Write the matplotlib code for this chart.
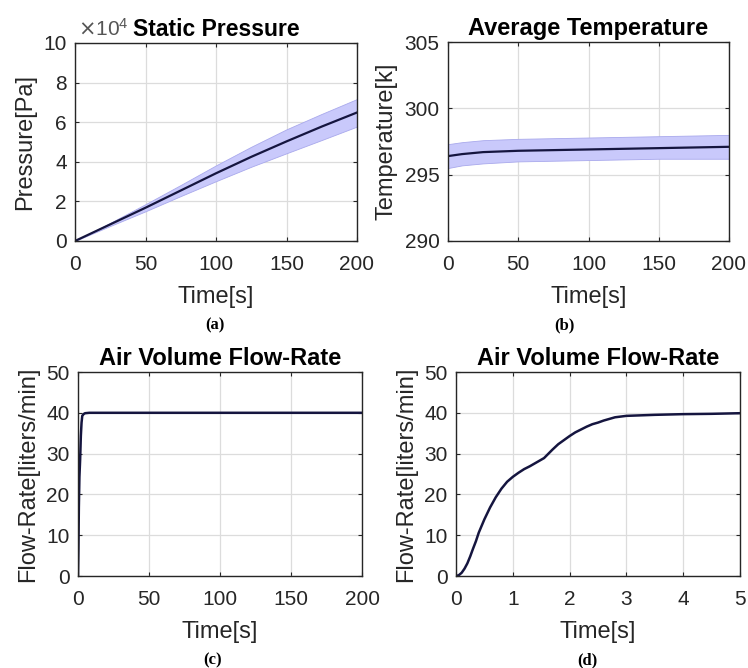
import numpy as np
import matplotlib.pyplot as plt

plt.rcParams['font.family'] = ['Liberation Sans', 'DejaVu Sans']

# -----------------------------------------------------
# Data
# -----------------------------------------------------
# (a) static pressure, in units of 1e4 Pa
p_time = [0, 25, 50, 75, 100, 125, 150, 175, 200]
p_mean = [0.0, 0.84, 1.68, 2.55, 3.42, 4.25, 5.03, 5.78, 6.49]
p_low = [0.0, 0.76, 1.50, 2.27, 3.02, 3.75, 4.43, 5.10, 5.78]
p_high = [0.0, 0.92, 1.86, 2.83, 3.82, 4.76, 5.64, 6.42, 7.17]

# (b) average temperature [K]
t_time = [0, 10, 25, 50, 75, 100, 125, 150, 175, 200]
t_mean = [296.4, 296.55, 296.7, 296.8, 296.85, 296.9, 296.95, 297.0, 297.05, 297.1]
t_low = [295.5, 295.7, 295.85, 296.0, 296.05, 296.1, 296.15, 296.2, 296.2, 296.2]
t_high = [297.3, 297.45, 297.6, 297.7, 297.75, 297.8, 297.85, 297.9, 297.95, 298.0]

# (c) flow rate over the full run [liters/min]
c_time = [0, 0.3, 0.6, 1.0, 1.5, 2.0, 2.5, 3.0, 4.0, 5.0, 8.0, 20, 50, 100, 150, 200]
c_flow = [0, 6.7, 16.8, 24.3, 28.5, 34.3, 37.6, 39.25, 39.7, 39.9, 40.0, 40.0, 40.0, 40.0, 40.0, 40.0]

# (d) flow rate, first 5 s [liters/min]
d_time = [0, 0.05, 0.1, 0.15, 0.2, 0.25, 0.3, 0.35, 0.4, 0.5, 0.6, 0.7, 0.8, 0.9,
          1.0, 1.1, 1.2, 1.3, 1.4, 1.5, 1.55, 1.6, 1.7, 1.8, 1.9, 2.0, 2.1, 2.2,
          2.3, 2.4, 2.5, 2.6, 2.8, 3.0, 3.5, 4.0, 4.5, 5.0]
d_flow = [0, 0.2, 0.8, 1.8, 3.1, 4.8, 6.7, 8.5, 10.6, 13.9, 16.8, 19.3, 21.4, 23.1,
          24.3, 25.3, 26.2, 26.9, 27.7, 28.5, 28.9, 29.6, 31.0, 32.3, 33.3, 34.3, 35.2, 35.9,
          36.6, 37.2, 37.6, 38.1, 38.9, 39.25, 39.5, 39.67, 39.75, 39.9]

LINE = '#15153f'
BAND = '#c9c9fb'
BAND_EDGE = '#a9a9ec'
TXT = '#262626'


def style_axes(ax):
    ax.grid(True, color='#dcdcdc', linewidth=0.9)
    ax.set_axisbelow(True)
    for s in ax.spines.values():
        s.set_color(TXT)
        s.set_linewidth(1.0)
    ax.tick_params(direction='in', length=3, top=True, right=True,
                   labelsize=15, colors=TXT)
    ax.tick_params(axis='x', pad=10)
    ax.tick_params(axis='y', pad=6)


W, H = 748, 668
fig = plt.figure(figsize=(W / 100, H / 100), dpi=100)


def px_axes(left, top, right, bottom):
    return fig.add_axes([left / W, 1 - bottom / H, (right - left) / W, (bottom - top) / H])


def labels(ax, ylabel, title, tsize):
    ax.set_xlabel('Time[s]', fontsize=17, color=TXT, labelpad=9)
    ax.set_ylabel(ylabel, fontsize=17, color=TXT, labelpad=5)
    ax.set_title(title, fontsize=tsize, fontweight='bold', pad=5)


# (a)
ax = px_axes(75, 43, 357, 241)
ax.fill_between(p_time, p_low, p_high, color=BAND, edgecolor=BAND_EDGE, linewidth=0.6)
ax.plot(p_time, p_mean, color=LINE, linewidth=1.6)
ax.set_xlim(0, 200)
ax.set_ylim(0, 10)
ax.set_xticks([0, 50, 100, 150, 200])
ax.set_yticks([0, 2, 4, 6, 8, 10])
style_axes(ax)
labels(ax, 'Pressure[Pa]', 'Static Pressure', 16.5)
ax.text(0.01, 1.015, r'$\times\mathregular{10^4}$', transform=ax.transAxes,
        fontsize=15, color='#555555', ha='left', va='bottom')

# (b)
ax = px_axes(448, 42, 729, 241)
ax.fill_between(t_time, t_low, t_high, color=BAND, edgecolor=BAND_EDGE, linewidth=0.6)
ax.plot(t_time, t_mean, color=LINE, linewidth=1.6)
ax.set_xlim(0, 200)
ax.set_ylim(290, 305)
ax.set_xticks([0, 50, 100, 150, 200])
ax.set_yticks([290, 295, 300, 305])
style_axes(ax)
labels(ax, 'Temperature[k]', 'Average Temperature', 17)

# (c)
ax = px_axes(78, 372, 362, 576)
ax.plot(c_time, c_flow, color=LINE, linewidth=1.8)
ax.set_xlim(0, 200)
ax.set_ylim(0, 50)
ax.set_xticks([0, 50, 100, 150, 200])
ax.set_yticks([0, 10, 20, 30, 40, 50])
style_axes(ax)
labels(ax, 'Flow-Rate[liters/min]', 'Air Volume Flow-Rate', 17)

# (d)
ax = px_axes(456, 372, 740, 576)
ax.plot(d_time, d_flow, color=LINE, linewidth=1.8)
ax.set_xlim(0, 5)
ax.set_ylim(0, 50)
ax.set_xticks([0, 1, 2, 3, 4, 5])
ax.set_yticks([0, 10, 20, 30, 40, 50])
style_axes(ax)
labels(ax, 'Flow-Rate[liters/min]', 'Air Volume Flow-Rate', 17)

# panel captions
for label, x, y in [('(a)', 215, 325), ('(b)', 564, 325), ('(c)', 213, 660), ('(d)', 587, 660)]:
    fig.text(x / W, 1 - y / H, label, fontsize=12, family='Liberation Serif',
             fontweight='bold', ha='center', va='center')

fig.savefig('out.png', dpi=100)
